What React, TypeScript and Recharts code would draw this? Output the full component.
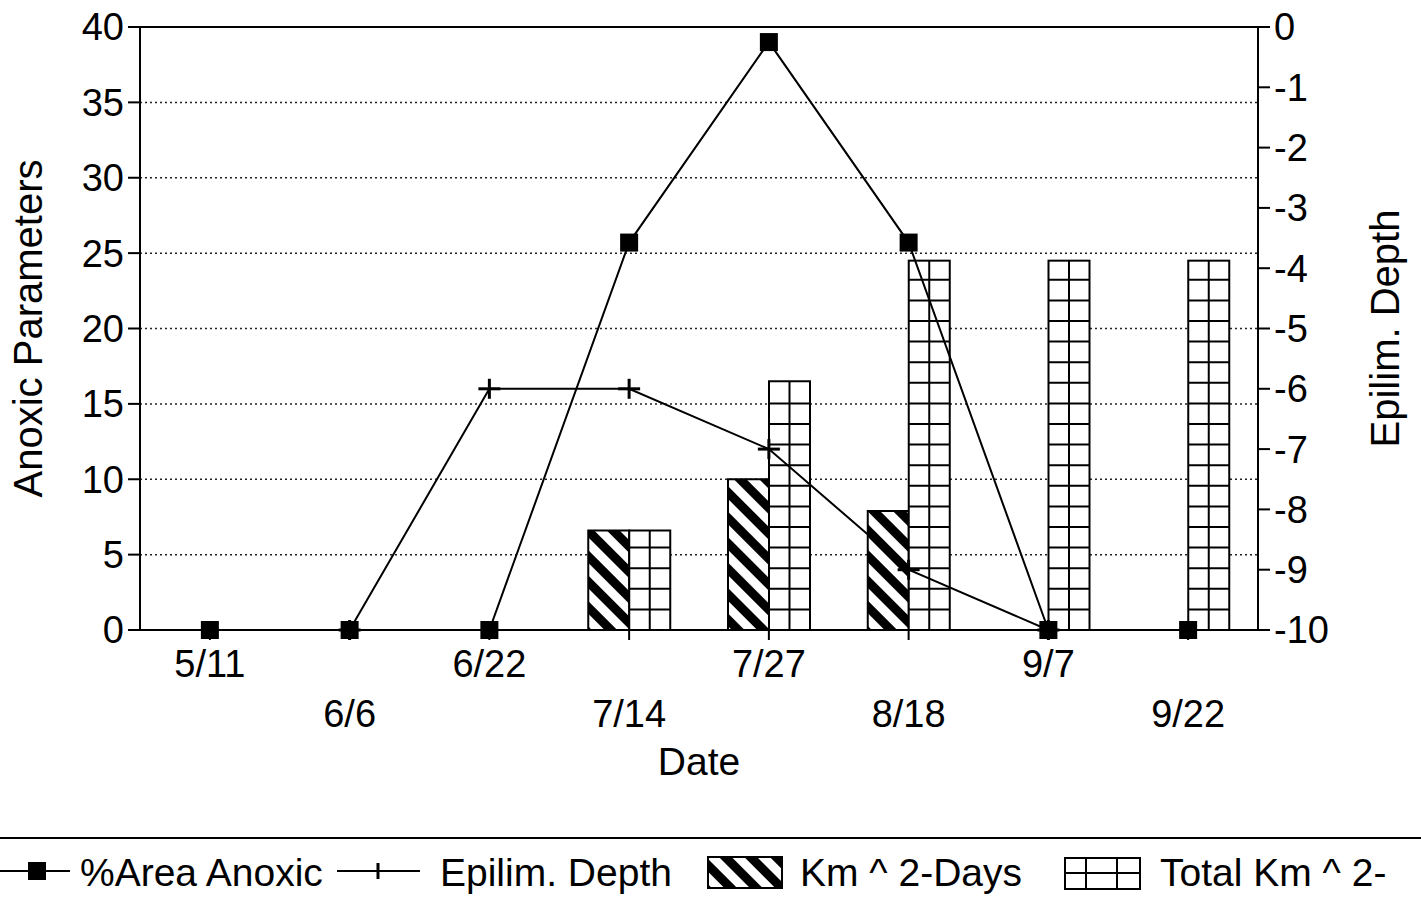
import React from 'react';
import { ComposedChart, Bar, Line, XAxis, YAxis, CartesianGrid, ReferenceLine } from 'recharts';

const FONT = '"Liberation Sans", Arial, Helvetica, sans-serif';

// values
const dates = ['5/11', '6/6', '6/22', '7/14', '7/27', '8/18', '9/7', '9/22'];
const areaAnoxic = [0, 0, 0, 25.7, 39, 25.7, 0, 0];
const epilimDepth = [null, -10, -6, -6, -7, -9, -10, null];
const kmDays = [null, null, null, 6.6, 10, 7.9, null, null];
const totalKm = [null, null, null, 6.6, 16.5, 24.5, 24.5, 24.5];
const leftTicks = [0, 5, 10, 15, 20, 25, 30, 35, 40];
const rightTicks = [-10, -9, -8, -7, -6, -5, -4, -3, -2, -1, 0];

const data = dates.map((d, i) => ({
  date: d,
  area: areaAnoxic[i],
  depth: epilimDepth[i],
  kmDays: kmDays[i],
  total: totalKm[i],
}));

const CELL = 20.6;

const DateTick = (props: any) => {
  const { x, y, payload, index } = props;
  const shift = index % 2 === 0 ? 2 : 52;
  return (
    <text x={x} y={y + shift} dy="0.72em" textAnchor="middle" fontSize={38} fontFamily={FONT} fill="#000">
      {payload.value}
    </text>
  );
};

const SquareDot = (props: any) => {
  const { cx, cy, index } = props;
  if (cx == null || cy == null) return <g key={`sq-${index}`} />;
  return <rect key={`sq-${index}`} x={cx - 9} y={cy - 9} width={18} height={18} fill="#000" />;
};

const PlusDot = (props: any) => {
  const { cx, cy, index } = props;
  if (cx == null || cy == null) return <g key={`pl-${index}`} />;
  return (
    <g key={`pl-${index}`}>
      <line x1={cx - 11} x2={cx + 11} y1={cy} y2={cy} stroke="#000" strokeWidth={3} />
      <line x1={cx} x2={cx} y1={cy - 10} y2={cy + 10} stroke="#000" strokeWidth={3} />
    </g>
  );
};

const GridBar = (props: any) => {
  const { x, y, width, height } = props;
  if (!height || height <= 0) return <g />;
  const bottom = y + height;
  const rows: React.ReactNode[] = [];
  for (let yy = bottom - CELL; yy > y + 3; yy -= CELL) {
    rows.push(<line key={yy} x1={x} x2={x + width} y1={yy} y2={yy} stroke="#000" strokeWidth={2} />);
  }
  return (
    <g>
      <rect x={x} y={y} width={width} height={height} fill="#fff" stroke="#000" strokeWidth={2} />
      <line x1={x + width / 2} x2={x + width / 2} y1={y} y2={bottom} stroke="#000" strokeWidth={2} />
      {rows}
    </g>
  );
};

const tickStyle = { fill: '#000', fontSize: 38, fontFamily: FONT };

const ChartLegend = () => (
  <svg width={1421} height={115} style={{ position: 'absolute', left: 0, top: 800 }}>
    <defs>
      <pattern id="hatchLegend" patternUnits="userSpaceOnUse" width="18" height="18" patternTransform="rotate(-45)">
        <rect width="18" height="18" fill="#fff" />
        <rect width="9" height="18" fill="#000" />
      </pattern>
    </defs>
    <line x1={0} x2={1421} y1={38} y2={38} stroke="#000" strokeWidth={2} />
    <g fontFamily={FONT} fontSize={39} fill="#000">
      <line x1={0} x2={70} y1={71} y2={71} stroke="#000" strokeWidth={2} />
      <rect x={28} y={62} width={18} height={18} fill="#000" />
      <text x={80} y={86}>%Area Anoxic</text>

      <line x1={337} x2={420} y1={71} y2={71} stroke="#000" strokeWidth={2} />
      <line x1={378} x2={378} y1={63} y2={79} stroke="#000" strokeWidth={3} />
      <text x={440} y={86}>Epilim. Depth</text>

      <rect x={708} y={57} width={74} height={31} fill="url(#hatchLegend)" stroke="#000" strokeWidth={2} />
      <text x={800} y={86}>Km ^ 2-Days</text>

      <rect x={1065} y={58} width={75} height={31} fill="#fff" stroke="#000" strokeWidth={2} />
      <line x1={1086} x2={1086} y1={58} y2={89} stroke="#000" strokeWidth={2} />
      <line x1={1117} x2={1117} y1={58} y2={89} stroke="#000" strokeWidth={2} />
      <line x1={1065} x2={1140} y1={73} y2={73} stroke="#000" strokeWidth={2} />
      <text x={1160} y={86}>Total Km ^ 2-</text>
    </g>
  </svg>
);

export default function App() {
  return (
    <div style={{ position: 'relative', width: 1421, height: 915, background: '#fff', fontFamily: FONT }}>
      <style>{'body{margin:0;background:#fff}'}</style>
      <ComposedChart
        width={1421}
        height={800}
        data={data}
        margin={{ top: 27, right: 0, left: 0, bottom: 0 }}
        barGap={0}
        barSize={41}
      >
        <defs>
          <pattern id="hatch" patternUnits="userSpaceOnUse" width="18" height="18" patternTransform="rotate(-45)">
            <rect width="18" height="18" fill="#fff" />
            <rect width="9" height="18" fill="#000" />
          </pattern>
        </defs>
        <CartesianGrid yAxisId="left" vertical={false} stroke="#222" strokeDasharray="2 3" strokeWidth={1.5} />
        <XAxis
          dataKey="date"
          interval={0}
          height={170}
          tick={<DateTick />}
          tickSize={10}
          tickMargin={8}
          axisLine={{ stroke: '#000', strokeWidth: 2 }}
          tickLine={{ stroke: '#000', strokeWidth: 2 }}
          label={{ value: 'Date', position: 'insideBottom', offset: 25, fontSize: 39, fill: '#000', fontFamily: FONT }}
        />
        <YAxis
          yAxisId="left"
          domain={[0, 40]}
          ticks={leftTicks}
          width={140}
          tickSize={12}
          tickMargin={4}
          tick={tickStyle}
          axisLine={{ stroke: '#000', strokeWidth: 2 }}
          tickLine={{ stroke: '#000', strokeWidth: 2 }}
          label={{
            value: 'Anoxic Parameters',
            angle: -90,
            position: 'insideLeft',
            offset: 28,
            fontSize: 40,
            fill: '#000',
            fontFamily: FONT,
            style: { textAnchor: 'middle' },
          }}
        />
        <YAxis
          yAxisId="right"
          orientation="right"
          domain={[-10, 0]}
          ticks={rightTicks}
          width={163}
          tickSize={12}
          tickMargin={4}
          tick={tickStyle}
          axisLine={{ stroke: '#000', strokeWidth: 2 }}
          tickLine={{ stroke: '#000', strokeWidth: 2 }}
          label={{
            value: 'Epilim. Depth',
            angle: -90,
            position: 'insideRight',
            offset: 36,
            fontSize: 40,
            fill: '#000',
            fontFamily: FONT,
            style: { textAnchor: 'middle' },
          }}
        />
        <ReferenceLine yAxisId="left" y={40} stroke="#000" strokeWidth={2} />
        <Bar yAxisId="left" dataKey="kmDays" fill="url(#hatch)" stroke="#000" strokeWidth={2} isAnimationActive={false} />
        <Bar yAxisId="left" dataKey="total" shape={GridBar} isAnimationActive={false} />
        <Line
          yAxisId="left"
          type="linear"
          dataKey="area"
          stroke="#000"
          strokeWidth={2}
          dot={SquareDot}
          activeDot={false}
          isAnimationActive={false}
        />
        <Line
          yAxisId="right"
          type="linear"
          dataKey="depth"
          stroke="#000"
          strokeWidth={2}
          dot={PlusDot}
          activeDot={false}
          isAnimationActive={false}
        />
      </ComposedChart>
      <ChartLegend />
    </div>
  );
}
